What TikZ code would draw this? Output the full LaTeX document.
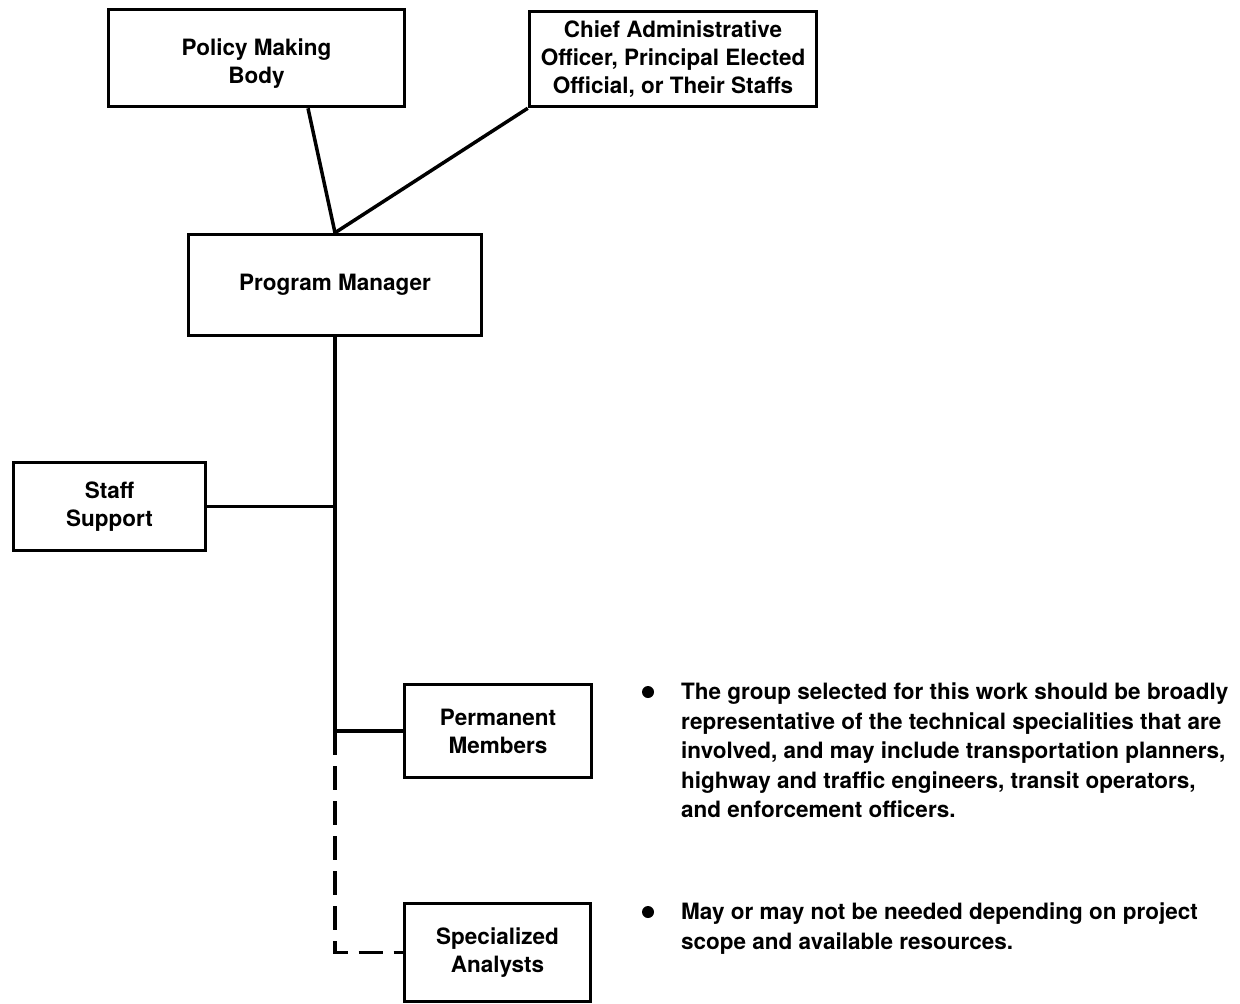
\documentclass[tikz,border=0pt]{standalone}
\usepackage{fontspec}
\setmainfont{TeX Gyre Heros}
\begin{document}
\begin{tikzpicture}[x=1pt,y=-1pt,
  box/.style={draw, line width=3.5pt, rectangle, inner sep=0pt, align=center,
    font=\bfseries\fontsize{22.5}{28}\selectfont},
  conn/.style={line width=3.5pt},
  dconn/.style={line width=3.5pt, dash pattern=on 24pt off 11pt},
  dot/.style={circle, fill=black, inner sep=0pt, minimum size=12pt},
  note/.style={anchor=north west, inner sep=0pt, align=left,
    font=\bfseries\fontsize{22.5}{29.5}\selectfont}]
\useasboundingbox (0,0) rectangle (1240,1004);
\fill[white] (0,0) rectangle (1240,1004);

\node[box, minimum width=296, minimum height=97] (policy) at (256.5,58) {\rule{0pt}{28pt}Policy Making\\Body};
\node[box, minimum width=287, minimum height=95] (chief) at (673,59) {Chief Administrative\\Officer, Principal Elected\\Official, or Their Staffs};
\node[box, minimum width=293, minimum height=101] (pm) at (335,285) {Program Manager};
\node[box, minimum width=192, minimum height=88] (staff) at (109.5,506.5) {Staff\\Support};
\node[box, minimum width=187, minimum height=93] (perm) at (498,731) {Permanent\\Members};
\node[box, minimum width=186, minimum height=98] (spec) at (497.5,952.5) {Specialized\\Analysts};

\coordinate (jperm) at (pm.south |- perm.west);
\coordinate (jspec) at (pm.south |- spec.west);

\draw[conn] ([xshift=51.5pt]policy.south) -- (pm.north);
\draw[conn] (chief.south west) -- (pm.north);
\draw[conn] (pm.south) -- (jperm);
\draw[conn] (staff.east) -- (staff.east -| pm.south);
\draw[conn] (jperm) -- (perm.west);
\draw[dconn] (jperm) -- (jspec) -- (spec.west);

\node[dot] (b1) at (648,692) {};
\node[note] (t1) at (681,683) {The group selected for this work should be broadly\\representative of the technical specialities that are\\involved, and may include transportation planners,\\highway and traffic engineers, transit operators,\\and enforcement officers.};
\node[dot] (b2) at (648,912) {};
\node[note] (t2) at (681,903) {May or may not be needed depending on project\\scope and available resources.};
\end{tikzpicture}
\end{document}
